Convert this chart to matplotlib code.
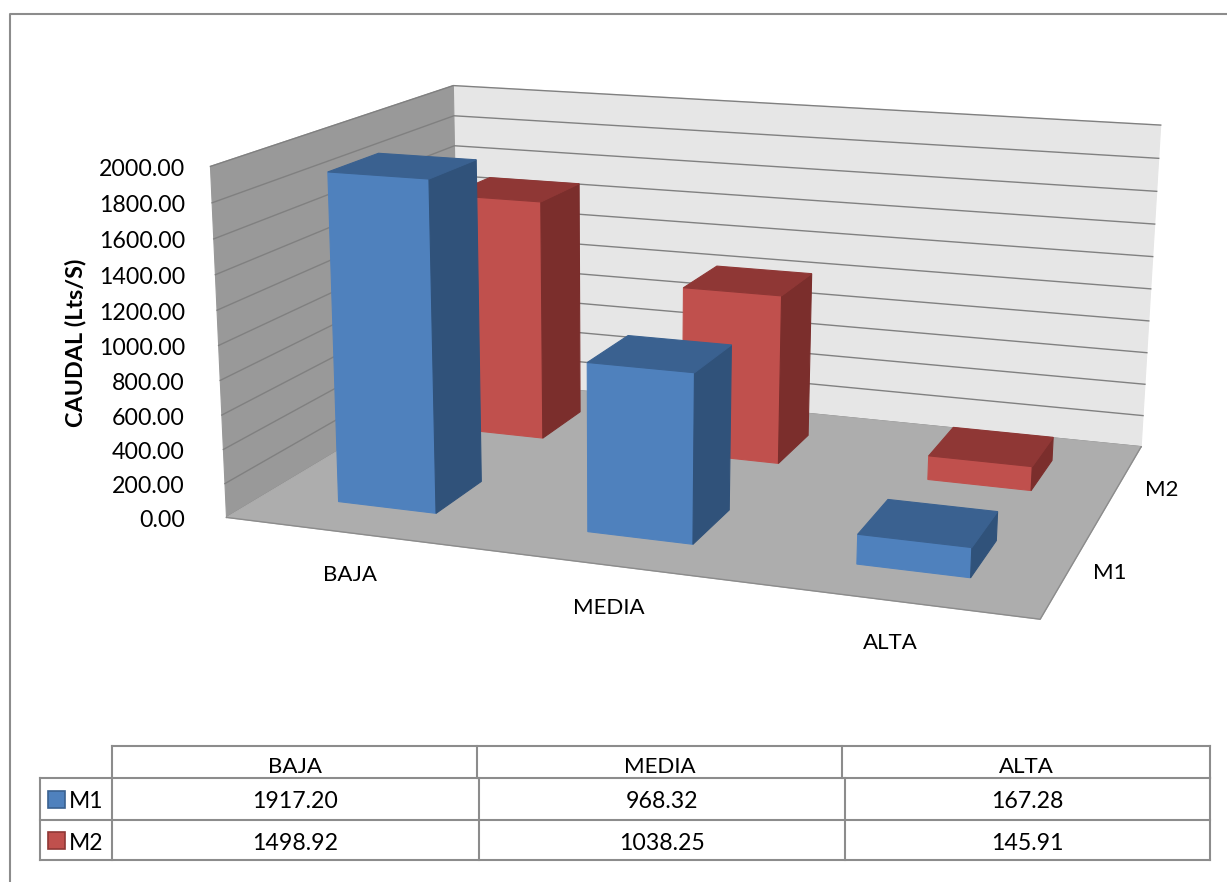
import numpy as np
import matplotlib
matplotlib.use("Agg")
import matplotlib.pyplot as plt
from matplotlib.patches import Polygon, Rectangle

categories = ["BAJA", "MEDIA", "ALTA"]
series = ["M1", "M2"]
m1_values = [1917.20, 968.32, 167.28]
m2_values = [1498.92, 1038.25, 145.91]
z_ticks = [0, 200, 400, 600, 800, 1000, 1200, 1400, 1600, 1800, 2000]
z_max = 2000

plt.rcParams["font.family"] = ["Lato", "DejaVu Sans"]
W, H = 1227, 882
fig = plt.figure(figsize=(W / 100, H / 100), dpi=100)
ax = fig.add_axes([0, 0, 1, 1])
ax.set_xlim(0, W); ax.set_ylim(H, 0); ax.axis("off")

# camera: fit a projective map from the visible box corners (x, depth, z) -> pixels
anchors = [((0, 0, 0), (229, 518)), ((1, 0, 0), (1040, 619)), ((1, 1, 0), (1142, 447)),
           ((0, 1, 0), (456, 378)), ((0, 0, 1), (208, 166)), ((0, 1, 1), (456, 86)),
           ((1, 1, 1), (1160, 125))]
A, b = [], []
for (X, Y, Z), (u, v) in anchors:
    A.append([X, Y, Z, 1, 0, 0, 0, 0, -u * X, -u * Y, -u * Z]); b.append(u)
    A.append([0, 0, 0, 0, X, Y, Z, 1, -v * X, -v * Y, -v * Z]); b.append(v)
P = np.append(np.linalg.lstsq(np.array(A, float), np.array(b, float), rcond=None)[0], 1).reshape(3, 4)


def project(x, d, z):
    p = P @ np.array([x, d, z / z_max, 1.0])
    return p[0] / p[2], p[1] / p[2]


def face(pts, color, edge=None, zorder=1):
    ax.add_patch(Polygon([project(*p) for p in pts], closed=True, facecolor=color,
                         edgecolor=edge or color, lw=0.8, zorder=zorder))


# walls and floor
face([(0, 1, 0), (1, 1, 0), (1, 1, z_max), (0, 1, z_max)], "#e6e6e6")
face([(0, 0, 0), (0, 1, 0), (0, 1, z_max), (0, 0, z_max)], "#999999")
face([(0, 0, 0), (1, 0, 0), (1, 1, 0), (0, 1, 0)], "#adadad", zorder=1.5)
ax.plot(*zip(project(0, 0, 0), project(1, 0, 0), project(1, 1, 0)), color="#8c8c8c", lw=1.0, zorder=1.6)

for z in z_ticks:
    pts = [project(0, 0, z), project(0, 1, z), project(1, 1, z)]
    ax.plot(*zip(*pts), color="#808080", lw=1.0, zorder=1.2)
    ax.text(185, project(0, 0, z)[1] + 3, f"{z:.2f}", ha="right", va="center", fontsize=16.7, color="black")


def bar(i, depth0, value, colors):
    x0 = (i + 0.3) / 3
    x1 = (i + 0.7) / 3
    d0, d1 = depth0, depth0 + 0.2
    front, side, top = colors
    face([(x0, d0, 0), (x1, d0, 0), (x1, d0, value), (x0, d0, value)], front, zorder=3)
    face([(x1, d0, 0), (x1, d1, 0), (x1, d1, value), (x1, d0, value)], side, zorder=3)
    face([(x0, d0, value), (x1, d0, value), (x1, d1, value), (x0, d1, value)], top, zorder=3)


blue = ("#4f81bd", "#30527a", "#3a6190")
red = ("#c0504d", "#7b2e2c", "#8f3735")
for i, v in enumerate(m2_values):
    bar(i, 0.65, v, red)
for i, v in enumerate(m1_values):
    bar(i, 0.15, v, blue)

# axis labels
for name, x, y in zip(categories, [350, 609, 890], [575, 608, 643]):
    ax.text(x, y, name, ha="center", va="center", fontsize=16)
for name, x, y in zip(series, [1110, 1162], [573, 490]):
    ax.text(x, y, name, ha="center", va="center", fontsize=16)
ax.text(76, 343, "CAUDAL (Lts/S)", rotation=90, ha="center", va="center", fontsize=16.8, fontweight="bold")

# chart frame, only top and left are in the crop
ax.plot([10, 10, W], [H, 14, 14], color="#8c8c8c", lw=1.5, clip_on=False)

# data table
line = dict(color="#8c8c8c", lw=1.5, zorder=2)
head_x = [112, 477, 842, 1210]
body_x = [112, 479, 845, 1210]
row_y = [746, 778, 820, 860]
ax.plot([head_x[0], head_x[-1]], [row_y[0], row_y[0]], **line)
for y in row_y[1:]:
    ax.plot([40, head_x[-1]], [y, y], **line)
for x in head_x:
    ax.plot([x, x], [row_y[0], row_y[1]], **line)
for x in body_x:
    ax.plot([x, x], [row_y[1], row_y[3]], **line)
ax.plot([40, 40], [row_y[1], row_y[3]], **line)

for j, name in enumerate(categories):
    ax.text((head_x[j] + head_x[j + 1]) / 2, 767, name, ha="center", va="center", fontsize=16)
rows = [(series[0], m1_values, "#4f81bd", "#3a6190"), (series[1], m2_values, "#c0504d", "#8f3735")]
for r, (name, vals, col, edge) in enumerate(rows):
    cy = (row_y[r + 1] + row_y[r + 2]) / 2 + 3
    ax.add_patch(Rectangle((47.5, cy - 11), 17, 17, facecolor=col, edgecolor=edge, lw=1.2))
    ax.text(69, cy, name, ha="left", va="center", fontsize=16.5)
    for j, v in enumerate(vals):
        ax.text((body_x[j] + body_x[j + 1]) / 2, cy, f"{v:.2f}", ha="center", va="center", fontsize=16.7)

fig.savefig("out.png", dpi=100)
